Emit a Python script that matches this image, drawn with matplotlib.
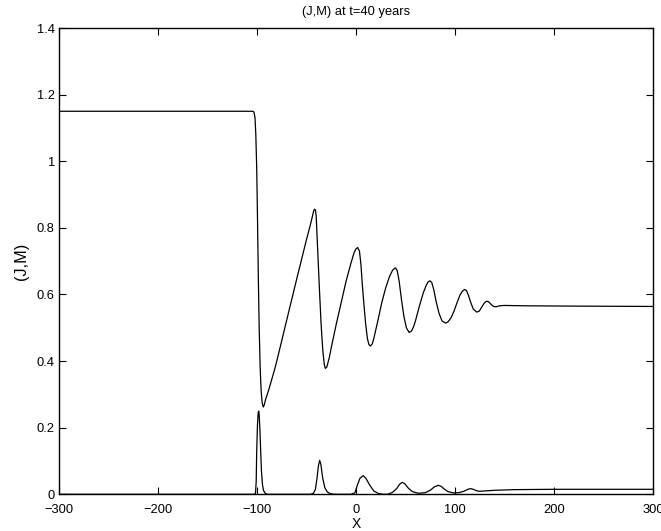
import matplotlib
matplotlib.use("Agg")
import matplotlib.pyplot as plt

# ---- data ----
j_x = [-300, -104, -103, -102, -101.2, -100.3, -99.5, -98.7, -97.8, -96.8, -95.8, -94.8,
       -93.7, -92.7, -91.5, -88, -82, -80, -70, -60, -50, -46, -44, -43, -42, -41, -40.2,
       -38.7, -37, -35.3, -33.5, -32, -31, -29.5, -27, -25, -20, -15, -10, -5, -2, 0,
       1.7, 3.5, 5, 6.3, 8, 9.7, 11.5, 13, 14.5, 16.5, 18, 22, 26, 30, 34, 37, 39.7, 41.5,
       43.5, 46, 48.5, 51, 53.7, 56, 58, 60, 64, 68, 71, 73, 74.7, 76.5, 78.5, 81, 84, 87,
       90.7, 93, 96, 99, 102, 105, 107.5, 109.7, 111.5, 113.5, 116, 118.5, 122, 124.5, 127,
       129.5, 132, 134, 136.5, 139, 141.5, 145, 150, 170, 220, 300]
j_y = [1.15, 1.15, 1.147, 1.13, 1.08, 0.98, 0.83, 0.66, 0.50, 0.38, 0.31, 0.275,
       0.262, 0.268, 0.283, 0.315, 0.377, 0.40, 0.523, 0.645, 0.765, 0.81, 0.835, 0.848, 0.856, 0.854, 0.835,
       0.733, 0.62, 0.513, 0.43, 0.39, 0.378, 0.382, 0.41, 0.44, 0.51, 0.575, 0.64, 0.695, 0.725, 0.737,
       0.741, 0.73, 0.69, 0.633, 0.57, 0.513, 0.468, 0.450, 0.445, 0.452, 0.468, 0.52, 0.575, 0.62, 0.655, 0.673, 0.680, 0.673,
       0.642, 0.583, 0.532, 0.499, 0.486, 0.490, 0.502, 0.52, 0.565, 0.605, 0.628, 0.638, 0.641, 0.636, 0.615, 0.578, 0.542, 0.520,
       0.514, 0.518, 0.530, 0.550, 0.575, 0.598, 0.610, 0.615, 0.612, 0.598, 0.575, 0.556, 0.547, 0.550, 0.562,
       0.574, 0.580, 0.578, 0.570, 0.564, 0.563, 0.566, 0.567, 0.566, 0.565, 0.564]

m_x = [-300, -103, -101.5, -100.8, -100.3, -99.5, -98.8, -98.3, -97.8, -97, -96.3, -95.5,
       -94.5, -93.5, -92, -90, -46, -43, -41, -39.3, -38, -36.7, -35.5, -33.7, -31.5, -29,
       -26, -22, -5, -1, 1.3, 4, 7.3, 10, 14, 18, 23, 28, 32, 37, 41.3, 44, 46.7, 49.5, 53,
       57, 63, 70, 75, 79, 83, 86, 89, 93, 98.7, 104, 109, 113, 115.7, 118.5, 121.5, 124.7,
       130, 140, 160, 200, 300]
m_y = [0, 0, 0.003, 0.04, 0.13, 0.21, 0.245, 0.25, 0.24, 0.19, 0.13, 0.07,
       0.03, 0.012, 0.004, 0, 0, 0.003, 0.015, 0.05, 0.085, 0.102, 0.09, 0.05, 0.02, 0.007,
       0.002, 0, 0, 0.005, 0.027, 0.048, 0.056, 0.048, 0.027, 0.01, 0.002, 0, 0, 0.006, 0.018, 0.03, 0.036, 0.031, 0.018,
       0.008, 0.003, 0.005, 0.012, 0.022, 0.027, 0.024, 0.016, 0.008, 0.004, 0.005, 0.009, 0.015, 0.017, 0.015, 0.011, 0.009,
       0.010, 0.012, 0.014, 0.015, 0.015]

x_ticks = [-300, -200, -100, 0, 100, 200, 300]
x_ticklabels = ["\u2212300", "\u2212200", "\u2212100", "0", "100", "200", "300"]
y_ticks = [0, 0.2, 0.4, 0.6, 0.8, 1.0, 1.2, 1.4]
y_ticklabels = ["0", "0.2", "0.4", "0.6", "0.8", "1", "1.2", "1.4"]

plt.rcParams['font.family'] = ['Liberation Sans', 'DejaVu Sans']

fig = plt.figure(figsize=(6.61, 5.31), dpi=100)
ax = fig.add_axes([59/661, (531-494.3)/531, (653-59)/661, (494.3-28)/531])

ax.plot(j_x, j_y, color='black', lw=0.9)
ax.plot(m_x, m_y, color='black', lw=0.9)

ax.set_xlim(-300, 300)
ax.set_ylim(0, 1.4)
ax.set_xticks(x_ticks)
ax.set_xticklabels(x_ticklabels)
ax.set_yticks(y_ticks)
ax.set_yticklabels(y_ticklabels)
ax.tick_params(direction='in', length=5, width=0.8, top=True, right=True,
               labelsize=9.3)
ax.tick_params(axis='x', pad=7)
ax.tick_params(axis='y', pad=3)
for s in ax.spines.values():
    s.set_linewidth(1.0)

ax.set_title("(J,M) at t=40 years", fontsize=9.3, pad=9)
ax.set_xlabel("X", fontsize=10, labelpad=0.5)
ax.set_ylabel("(J,M)", fontsize=11.7, labelpad=6)

fig.savefig("out.png", dpi=100)
